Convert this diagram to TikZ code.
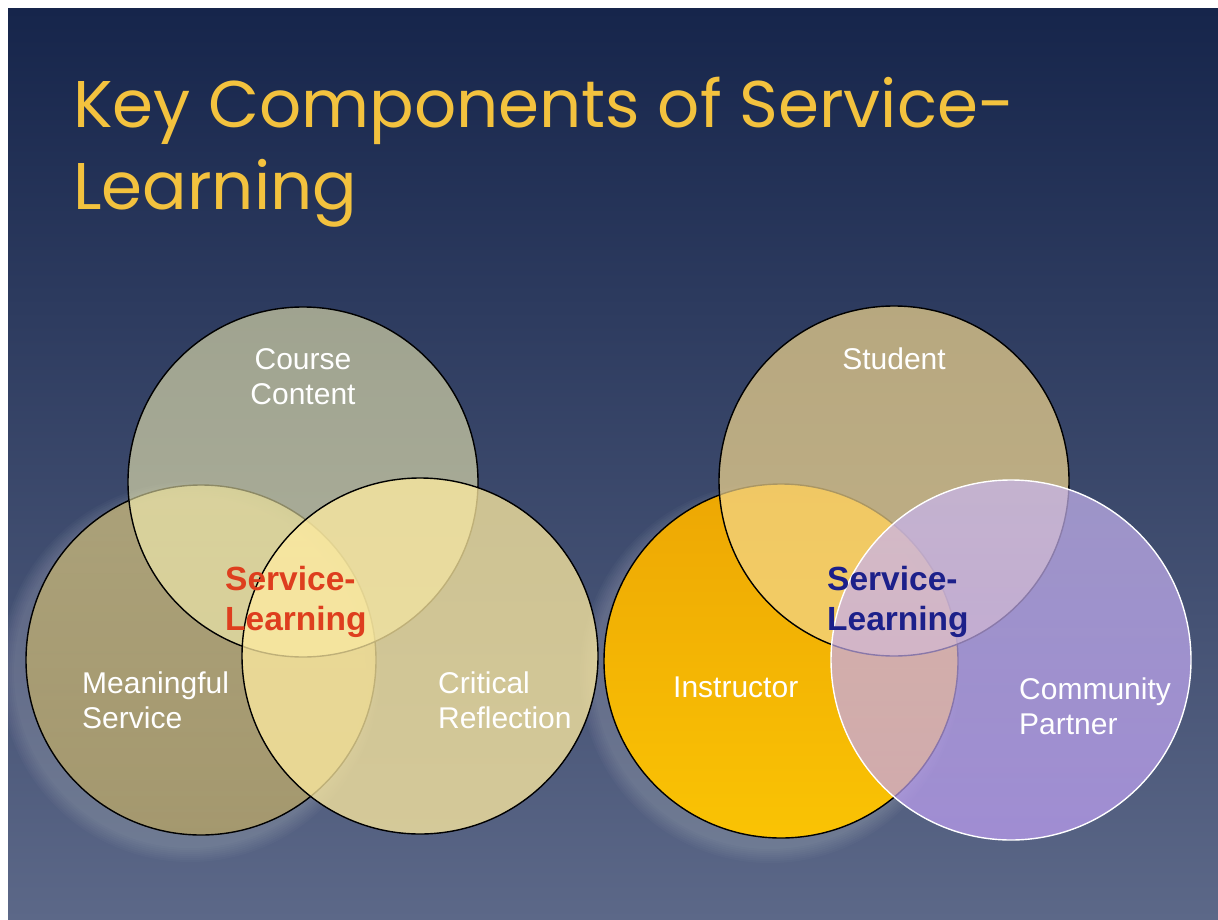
\documentclass[tikz,border=0pt]{standalone}
\usepackage{fontspec}
\setmainfont{Liberation Sans}
\newfontfamily\titlefont{Poppins}
\definecolor{bgtop}{RGB}{22,37,75}
\definecolor{bgmid}{RGB}{50,62,100}
\definecolor{bgbot}{RGB}{92,104,136}
\definecolor{titlegold}{RGB}{243,194,62}
\definecolor{mstop}{RGB}{206,188,118}
\definecolor{msbot}{RGB}{188,166,96}
\definecolor{ccfill}{RGB}{255,250,185}
\definecolor{crfill}{RGB}{255,236,161}
\definecolor{intop}{RGB}{242,170,0}
\definecolor{inbot}{RGB}{255,198,0}
\definecolor{stfill}{RGB}{243,215,142}
\definecolor{cptop}{RGB}{200,182,240}
\definecolor{cpbot}{RGB}{192,160,245}
\definecolor{slred}{RGB}{222,62,30}
\definecolor{slblue}{RGB}{28,32,138}
\begin{document}
\begin{tikzpicture}[x=1pt, y=-1pt,
    ring/.style = {circle, draw=black, line width=1.4pt, inner sep=0pt},
    lbl/.style = {text=white, font=\fontsize{30}{35}\selectfont, inner sep=0pt},
    core/.style = {font=\bfseries\fontsize{33.5}{40}\selectfont, inner sep=0pt, align=left, anchor=base west}]

    \useasboundingbox (0,0) rectangle (1218,920);
    \fill[white] (0,0) rectangle (1218,920);
    \shade[top color=bgtop, middle color=bgmid, bottom color=bgbot] (8,9) rectangle (1218,920);

    \node[text=titlegold, font=\titlefont\fontsize{66}{82}\selectfont, inner sep=0pt,
          align=left, anchor=base west] (title) at (73,210) {Key Components of Service-\\Learning};

    % soft glow at the lower left
    \foreach \r in {176,178,...,190} {
        \fill[white, opacity=.022] (190,672) circle (\r pt);
        \fill[white, opacity=.022] (770,673) circle (\r pt);
    }

    % left diagram
    \node[ring, minimum size=350pt, top color=mstop, bottom color=msbot, fill opacity=.7] (ms) at (201,660) {};
    \node[ring, minimum size=350pt, fill=ccfill, fill opacity=.55] (cc) at (303,482) {};
    \node[ring, minimum size=356pt, fill=crfill, fill opacity=.75] (cr) at (420,656) {};

    \node[lbl, align=center, anchor=base] (cctext) at (303,404) {Course\\Content};
    \node[lbl, align=left, anchor=base west] (mstext) at (82,728) {Meaningful\\Service};
    \node[lbl, align=left, anchor=base west] (crtext) at (438,728) {Critical\\Reflection};
    \node[core, text=slred] (slleft) at (225,630) {Service-\\Learning};

    % right diagram
    \node[ring, minimum size=354pt, top color=intop, bottom color=inbot, fill opacity=.97] (in) at (781,661) {};
    \node[ring, minimum size=350pt, fill=stfill, fill opacity=.7] (st) at (894,481) {};
    \node[ring, draw=white, minimum size=360pt, top color=cptop, bottom color=cpbot, fill opacity=.7] (cp) at (1011,660) {};

    \node[lbl, anchor=base] (sttext) at (894,369) {Student};
    \node[lbl, anchor=base west] (intext) at (673,697) {Instructor};
    \node[lbl, align=left, anchor=base west] (cptext) at (1019,734) {Community\\Partner};
    \node[core, text=slblue] (slright) at (827,630) {Service-\\Learning};

\end{tikzpicture}
\end{document}
